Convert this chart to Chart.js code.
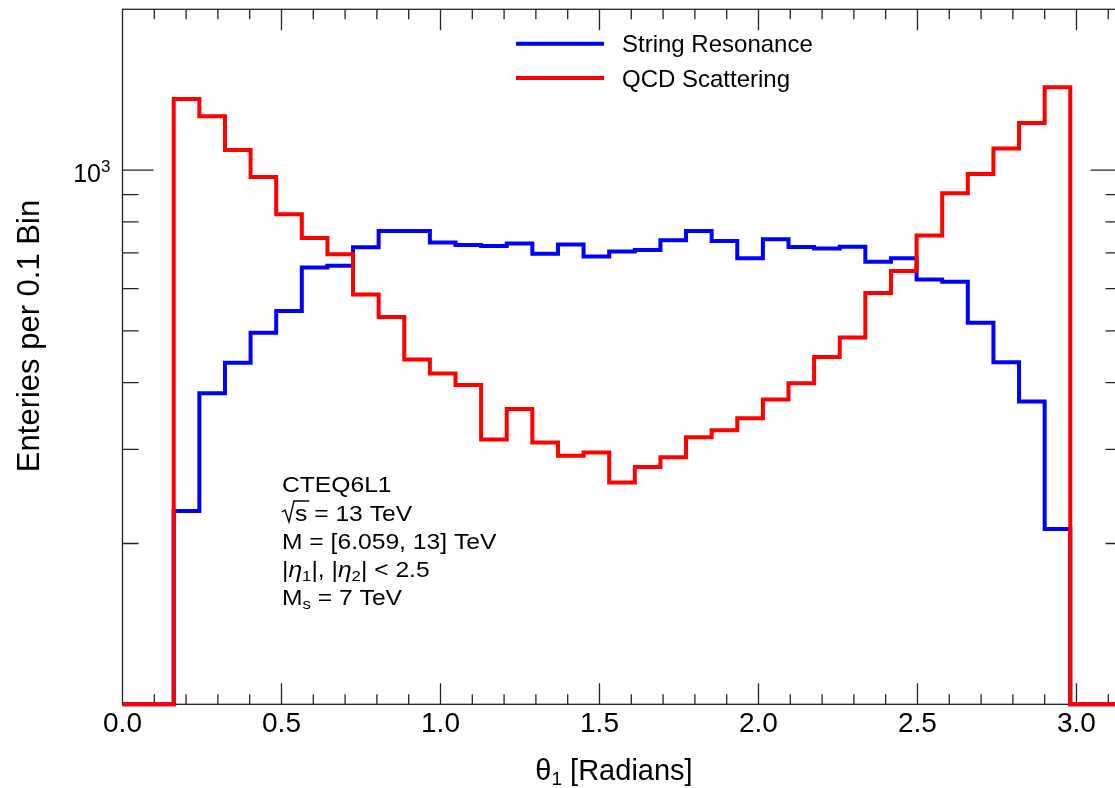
<!DOCTYPE html>
<html>
<head>
<meta charset="utf-8">
<script src="https://cdn.jsdelivr.net/npm/chart.js@4.4.1/dist/chart.umd.min.js"></script>
<style>
  html, body { margin: 0; padding: 0; background: #fff; overflow: hidden; }
  canvas { display: block; }
</style>
</head>
<body>
<canvas id="thetaChart" width="1125" height="788"></canvas>
<script>
// theta_1 histogram, 39 bins between 0 and pi
const thetaMin = 0;
const thetaMax = Math.PI;

// entries per bin (0 = empty bin)
const stringCounts = [0, 0, 230, 382, 436, 496, 545, 657, 662, 717, 769, 769, 732, 724, 721, 729, 697, 726, 689,
  704, 709, 739, 769, 737, 684, 742, 718, 713, 719, 674, 684, 624, 618, 518, 437, 369, 213, 0, 0];
const qcdCounts = [0, 0, 1359, 1261, 1090, 971, 827, 746, 696, 585, 531, 442, 416, 396, 313, 357, 309, 292, 296,
  260, 278, 290, 316, 326, 343, 372, 399, 447, 486, 589, 647, 754, 905, 983, 1098, 1225, 1429, 0, 0];

const seriesNames = ['String Resonance', 'QCD Scattering'];
const xTickValues = [0, 0.5, 1.0, 1.5, 2.0, 2.5, 3.0];
const xTickLabels = ['0.0', '0.5', '1.0', '1.5', '2.0', '2.5', '3.0'];
const yMinorTicks = [200, 300, 400, 500, 600, 700, 800, 900];
const yMajorTicks = [1000];
const yMin = 100;
const yMax = 2000;

const FONT = '"Liberation Sans", Arial, Helvetica, sans-serif';

// histogram -> step points at left bin edges (log axis: empty bins sit on the floor)
function stepPoints(counts) {
  const w = (thetaMax - thetaMin) / counts.length;
  const pts = counts.map((c, i) => ({ x: thetaMin + i * w, y: Math.max(c, yMin) }));
  pts.push({ x: thetaMax, y: Math.max(counts[counts.length - 1], yMin) });
  return pts;
}

// draws a run of text pieces: [text, size, dy, italic]; sx = horizontal stretch
function richText(ctx, x, y, parts, sx) {
  sx = sx || 1;
  ctx.save();
  ctx.translate(x, y);
  ctx.scale(sx, 1);
  let cx = 0;
  parts.forEach(p => {
    ctx.font = (p[3] ? 'italic ' : '') + p[1] + 'px ' + FONT;
    ctx.fillText(p[0], cx, p[2] || 0);
    cx += ctx.measureText(p[0]).width;
  });
  ctx.restore();
  return x + cx * sx;
}

const decor = {
  id: 'decor',
  beforeDatasetsDraw(chart) {
    const ctx = chart.ctx;
    const a = chart.chartArea;
    const xs = chart.scales.x;
    const ys = chart.scales.y;
    ctx.save();
    ctx.strokeStyle = '#222';
    ctx.lineWidth = 1.3;
    ctx.strokeRect(a.left, a.top, a.right - a.left, a.bottom - a.top);
    ctx.beginPath();
    for (let i = 1; i <= 31; i++) {
      const px = xs.getPixelForValue(i / 10);
      const len = i % 5 === 0 ? 21 : 10;
      ctx.moveTo(px, a.bottom); ctx.lineTo(px, a.bottom - len);
      ctx.moveTo(px, a.top); ctx.lineTo(px, a.top + len);
    }
    yMinorTicks.concat(yMajorTicks).forEach(v => {
      const py = ys.getPixelForValue(v);
      const len = yMajorTicks.includes(v) ? 31 : 16;
      ctx.moveTo(a.left, py); ctx.lineTo(a.left + len, py);
      ctx.moveTo(a.right, py); ctx.lineTo(a.right - len, py);
    });
    ctx.stroke();
    ctx.restore();
  },
  afterDraw(chart) {
    const ctx = chart.ctx;
    const a = chart.chartArea;
    const xs = chart.scales.x;
    const ys = chart.scales.y;
    ctx.save();
    ctx.fillStyle = '#000';
    ctx.textBaseline = 'alphabetic';

    // x tick labels
    ctx.font = '28px ' + FONT;
    ctx.textAlign = 'center';
    xTickValues.forEach((v, i) => ctx.fillText(xTickLabels[i], xs.getPixelForValue(v), a.bottom + 28));

    // y tick label 10^3
    ctx.textAlign = 'left';
    const py = ys.getPixelForValue(1000);
    ctx.font = '25px ' + FONT;
    const w10 = ctx.measureText('10').width;
    richText(ctx, 101 - w10, py + 12, [['10', 25, 0], ['3', 17, -10]]);

    // axis titles
    const tparts = [['\u03b8', 29, 0], ['1', 19, 5], [' [Radians]', 29, 0]];
    const tw = richText(ctx, -2000, 0, tparts) + 2000;
    richText(ctx, 614 - tw / 2, 780, tparts);

    ctx.save();
    ctx.translate(39, 336);
    ctx.rotate(-Math.PI / 2);
    ctx.textAlign = 'center';
    ctx.font = '31px ' + FONT;
    ctx.fillText('Enteries per 0.1 Bin', 0, 0);
    ctx.restore();

    // legend
    const legendColors = ['#0000ff', '#ff0000'];
    const legendY = [43.7, 78];
    ctx.lineWidth = 4;
    seriesNames.forEach((name, i) => {
      ctx.strokeStyle = legendColors[i];
      ctx.beginPath();
      ctx.moveTo(516, legendY[i]);
      ctx.lineTo(604, legendY[i]);
      ctx.stroke();
      ctx.font = '24px ' + FONT;
      ctx.fillText(name, 622, legendY[i] + 8.5);
    });

    // annotation block
    const ax = 282;
    const fs = 22;
    const sx = 1.12;
    richText(ctx, ax, 492, [['CTEQ6L1', fs]], sx);
    // sqrt(s)
    ctx.font = fs + 'px ' + FONT;
    const ws = ctx.measureText('s').width * sx;
    ctx.lineWidth = 1.4;
    ctx.strokeStyle = '#000';
    ctx.beginPath();
    ctx.moveTo(ax, 512);
    ctx.lineTo(ax + 3, 510);
    ctx.lineTo(ax + 7, 522);
    ctx.lineTo(ax + 12, 501);
    ctx.lineTo(ax + 14 + ws + 1, 501);
    ctx.stroke();
    richText(ctx, ax + 13, 521, [['s = 13 TeV', fs]], sx);
    richText(ctx, ax, 549, [['M = [6.059, 13] TeV', fs]], sx);
    richText(ctx, ax, 577, [['|', fs], ['\u03b7', fs, 0, true], ['1', 15, 4], ['|, |', fs], ['\u03b7', fs, 0, true], ['2', 15, 4], ['| < 2.5', fs]], sx);
    richText(ctx, ax, 605, [['M', fs], ['s', 15, 4], [' = 7 TeV', fs]], sx);
    ctx.restore();
  }
};

new Chart(document.getElementById('thetaChart'), {
  type: 'line',
  data: {
    datasets: [
      {
        label: seriesNames[0],
        data: stepPoints(stringCounts),
        borderColor: '#0000ff',
        borderWidth: 4,
        stepped: 'before',
        pointRadius: 0,
        fill: false,
        clip: false,
        order: 2
      },
      {
        label: seriesNames[1],
        data: stepPoints(qcdCounts),
        borderColor: '#ff0000',
        borderWidth: 4,
        stepped: 'before',
        pointRadius: 0,
        fill: false,
        clip: false,
        order: 1
      }
    ]
  },
  options: {
    responsive: false,
    animation: false,
    devicePixelRatio: 1,
    layout: { padding: { left: 0, right: 3.5, top: 9.3, bottom: 0 } },
    plugins: { legend: { display: false }, tooltip: { enabled: false } },
    scales: {
      x: {
        type: 'linear',
        min: thetaMin,
        max: thetaMax,
        ticks: { display: false, includeBounds: false },
        grid: { display: false, drawTicks: false },
        border: { display: false },
        afterFit(s) { s.height = 788 - 704.3; }
      },
      y: {
        type: 'logarithmic',
        min: yMin,
        max: yMax,
        ticks: { display: false },
        grid: { display: false, drawTicks: false },
        border: { display: false },
        afterFit(s) { s.width = 122.5; }
      }
    }
  },
  plugins: [decor]
});
</script>
</body>
</html>
